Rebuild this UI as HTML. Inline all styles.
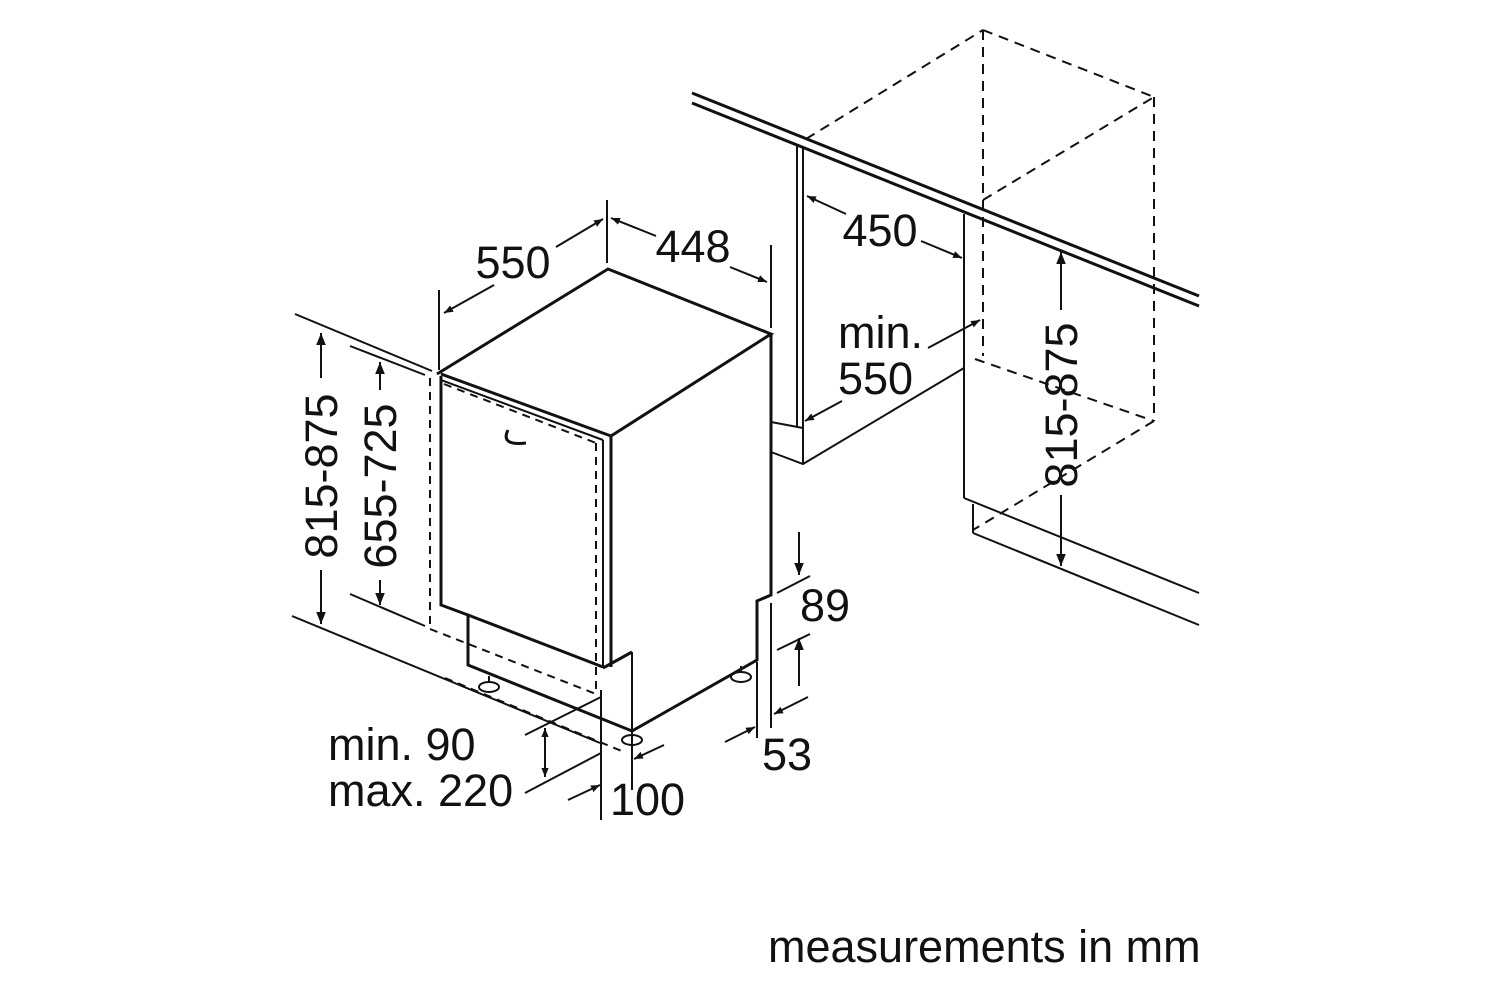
<!DOCTYPE html>
<html><head><style>
html,body{margin:0;padding:0;background:#fff;}
svg{display:block;}
text{font-family:"Liberation Sans",Arial,sans-serif;fill:#111;}
</style></head><body>
<svg width="1500" height="1000" viewBox="0 0 1500 1000" xmlns="http://www.w3.org/2000/svg">
<defs>
<marker id="a" viewBox="0 0 10 10" refX="10" refY="5" markerWidth="9" markerHeight="9" markerUnits="userSpaceOnUse" orient="auto"><path d="M0,1 L10,5 L0,9 Z" fill="#111"/></marker>
<marker id="b" viewBox="0 0 10 10" refX="10" refY="5" markerWidth="14" markerHeight="12" markerUnits="userSpaceOnUse" orient="auto"><path d="M0,1 L10,5 L0,9 Z" fill="#111"/></marker>
</defs>
<g stroke="#111" fill="none" stroke-width="2">
<line x1="295" y1="314" x2="432" y2="371"/>
<line x1="350" y1="346" x2="425" y2="375"/>
<line x1="292" y1="616" x2="600" y2="743"/>
<line x1="350" y1="594" x2="425" y2="626"/>
<g stroke-width="3">
<polyline points="437,374 608,269 771,334 611,436 441,374"/>
<polyline points="441,376 441,605 468,615 468,665 632,731 757,660 757,601 771,595 771,334"/>
<line x1="611" y1="436" x2="611" y2="667"/>
<polyline points="603,668 632,652"/>
</g>
<line x1="603" y1="440" x2="603" y2="668" stroke-width="2"/>
<line x1="468" y1="615" x2="603" y2="667" stroke-width="3"/>
<line x1="441" y1="380" x2="603" y2="440" stroke-width="2"/>
<line x1="632" y1="652" x2="632" y2="790"/>
<line x1="601" y1="690" x2="601" y2="820"/>
<path d="M508,430 Q500,446 526,443" stroke-width="3"/>
<ellipse cx="489" cy="687" rx="10" ry="5"/><line x1="489" y1="676" x2="489" y2="682"/>
<ellipse cx="632" cy="740" rx="10" ry="5"/>
<ellipse cx="741" cy="677" rx="10" ry="5"/><line x1="741" y1="666" x2="741" y2="672"/>
<g stroke-dasharray="8,6">
<line x1="430" y1="378" x2="430" y2="629"/>
<line x1="430" y1="629" x2="596" y2="694"/>
<line x1="596" y1="443" x2="596" y2="694"/>
<line x1="444" y1="384" x2="596" y2="443"/>
<line x1="445" y1="678" x2="624" y2="752"/>
</g>
<line x1="439" y1="290" x2="439" y2="370"/>
<line x1="607" y1="200" x2="607" y2="263"/>
<line x1="771" y1="245" x2="771" y2="328"/>
<line x1="494" y1="285" x2="444" y2="313" marker-end="url(#a)"/>
<line x1="556" y1="247" x2="603" y2="219" marker-end="url(#a)"/>
<line x1="656" y1="236" x2="611" y2="218" marker-end="url(#a)"/>
<line x1="730" y1="267" x2="767" y2="282" marker-end="url(#a)"/>
<line x1="321" y1="378" x2="321" y2="333" marker-end="url(#b)"/>
<line x1="321" y1="570" x2="321" y2="624" marker-end="url(#b)"/>
<line x1="380" y1="390" x2="380" y2="362" marker-end="url(#b)"/>
<line x1="380" y1="580" x2="380" y2="605" marker-end="url(#b)"/>
<line x1="799" y1="532" x2="799" y2="575" marker-end="url(#b)"/>
<line x1="777" y1="593" x2="810" y2="576"/>
<line x1="777" y1="650" x2="810" y2="634"/>
<line x1="799" y1="686" x2="799" y2="638" marker-end="url(#b)"/>
<line x1="771" y1="603" x2="771" y2="728"/>
<line x1="757" y1="662" x2="757" y2="738"/>
<line x1="725" y1="742" x2="755" y2="727" marker-end="url(#a)"/>
<line x1="808" y1="697" x2="774" y2="714" marker-end="url(#a)"/>
<line x1="525" y1="735" x2="601" y2="697"/>
<line x1="525" y1="793" x2="601" y2="753"/>
<line x1="545" y1="745" x2="545" y2="728" marker-end="url(#a)"/>
<line x1="545" y1="760" x2="545" y2="777" marker-end="url(#a)"/>
<line x1="545" y1="745" x2="545" y2="760"/>
<line x1="568" y1="800" x2="600" y2="785" marker-end="url(#a)"/>
<line x1="664" y1="745" x2="634" y2="759" marker-end="url(#a)"/>
<line x1="692" y1="93" x2="1199" y2="296" stroke-width="3"/>
<line x1="692" y1="103" x2="1199" y2="306" stroke-width="3"/>
<g stroke-dasharray="10,7">
<line x1="806" y1="139" x2="983" y2="30"/>
<line x1="983" y1="30" x2="1154" y2="97"/>
<line x1="983" y1="30" x2="983" y2="356"/>
<line x1="1154" y1="97" x2="1154" y2="421"/>
<line x1="983" y1="200" x2="1154" y2="97"/>
<line x1="975" y1="359" x2="1154" y2="421"/>
<line x1="1154" y1="421" x2="973" y2="530"/>
</g>
<line x1="797" y1="146" x2="797" y2="426"/>
<line x1="803" y1="148" x2="803" y2="463"/>
<line x1="771" y1="422" x2="803" y2="428"/>
<polyline points="771,452 803,464 964,368"/>
<line x1="964" y1="214" x2="964" y2="498"/>
<line x1="964" y1="498" x2="1199" y2="593"/>
<line x1="973" y1="504" x2="973" y2="533"/>
<line x1="973" y1="533" x2="1199" y2="625"/>
<line x1="846" y1="214" x2="807" y2="196" marker-end="url(#a)"/>
<line x1="921" y1="241" x2="962" y2="258" marker-end="url(#a)"/>
<line x1="928" y1="348" x2="980" y2="320" marker-end="url(#a)"/>
<line x1="842" y1="401" x2="805" y2="421" marker-end="url(#a)"/>
<line x1="1061" y1="310" x2="1061" y2="252" marker-end="url(#b)"/>
<line x1="1061" y1="495" x2="1061" y2="566" marker-end="url(#b)"/>
</g>
<g font-size="45">
<text x="513" y="278" text-anchor="middle">550</text>
<text x="693" y="262" text-anchor="middle">448</text>
<text x="880" y="246" text-anchor="middle">450</text>
<text x="838" y="348">min.</text>
<text x="838" y="394">550</text>
<text x="800" y="621">89</text>
<text x="762" y="770">53</text>
<text x="328" y="760">min. 90</text>
<text x="328" y="806">max. 220</text>
<text x="610" y="815">100</text>
<text transform="translate(337,476) rotate(-90)" text-anchor="middle">815-875</text>
<text transform="translate(396,486) rotate(-90)" text-anchor="middle">655-725</text>
<text transform="translate(1077,405) rotate(-90)" text-anchor="middle">815-875</text>
</g>
<text x="768" y="962" font-size="45">measurements in mm</text>
</svg>
</body></html>
